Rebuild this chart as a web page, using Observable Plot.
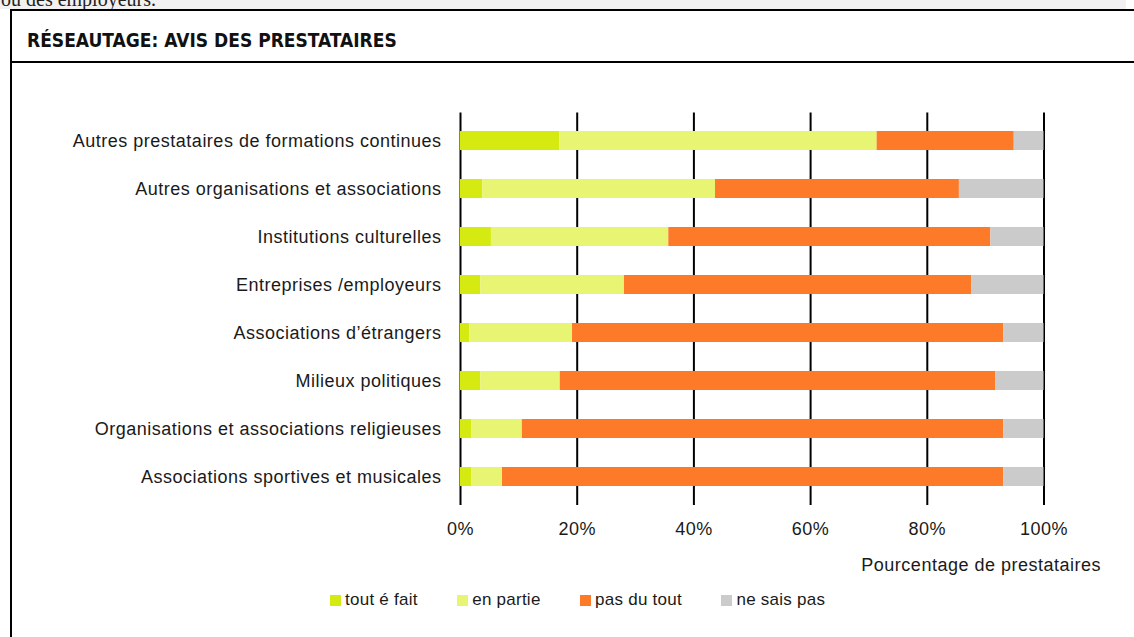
<!DOCTYPE html>
<html><head><meta charset="utf-8">
<script src="https://cdn.jsdelivr.net/npm/d3@7"></script>
<script src="https://cdn.jsdelivr.net/npm/@observablehq/plot@0.6"></script>
<style>
html,body{margin:0;padding:0;width:1134px;height:637px;overflow:hidden;background:#fff;}
#topband{position:absolute;left:0;top:0;width:1126px;height:9px;background:#f1f1f1;overflow:hidden;}
#topband span{position:absolute;left:1px;top:-11px;font:20px/20px "Liberation Serif",serif;color:#222;white-space:nowrap;}
#box{position:absolute;left:10px;top:9px;width:1300px;height:800px;border:2px solid #000;box-sizing:border-box;}
#header{position:absolute;left:0;top:0;width:100%;height:52px;border-bottom:2px solid #000;box-sizing:border-box;}
#title{position:absolute;left:27px;top:30.5px;font:bold 19px/19px "Liberation Sans Narrow","DejaVu Sans Condensed",sans-serif;color:#111;white-space:nowrap;}
#chart{position:absolute;left:0;top:63px;}
#legend{position:absolute;left:330px;top:591px;display:flex;gap:39.5px;font:17px/18px "Liberation Sans",sans-serif;letter-spacing:0.25px;color:#1a1a1a;}
#legend .item{display:flex;align-items:center;gap:4px;}
#legend .sw{width:11px;height:11px;display:inline-block;}
</style>
</head><body>
<div id="topband"><span>ou des employeurs.</span></div>
<div id="box"><div id="header"></div></div>
<div id="title">RÉSEAUTAGE: AVIS DES PRESTATAIRES</div>
<div id="chart"></div>
<div id="legend"></div>
<script>
const categories = [
  "Autres prestataires de formations continues",
  "Autres organisations et associations",
  "Institutions culturelles",
  "Entreprises /employeurs",
  "Associations d’étrangers",
  "Milieux politiques",
  "Organisations et associations religieuses",
  "Associations sportives et musicales"
];
const responses = ["tout é fait", "en partie", "pas du tout", "ne sais pas"];
const colors = ["#d4ea10", "#e8f572", "#fc7a28", "#cbcbcb"];
const toutAFait = [17.0, 3.8, 5.3, 3.5, 1.6, 3.5, 1.9, 1.9];
const enPartie  = [54.4, 39.9, 30.4, 24.6, 17.6, 13.6, 8.7, 5.3];
const pasDuTout = [23.5, 41.8, 55.2, 59.5, 73.9, 74.6, 82.5, 85.9];
const neSaisPas = [5.1, 14.5, 9.1, 12.4, 6.9, 8.3, 6.9, 6.9];
const xTicks = [0, 20, 40, 60, 80, 100];
const xLabel = "Pourcentage de prestataires";

const series = [toutAFait, enPartie, pasDuTout, neSaisPas];
const rows = [];
categories.forEach((c, i) => {
  responses.forEach((r, j) => rows.push({category: c, response: r, value: series[j][i]}));
});

const chart = Plot.plot({
  width: 1134,
  height: 520,
  marginLeft: 460,
  marginRight: 90.5,
  marginTop: 51.6,
  marginBottom: 81,
  style: {background: "transparent", color: "#1a1a1a", fontFamily: "'Liberation Sans', sans-serif", fontSize: "18px", letterSpacing: "0.5px"},
  x: {domain: [0, 100]},
  y: {domain: categories, paddingInner: 0.6, paddingOuter: 0.3},
  color: {domain: responses, range: colors},
  marks: [
    Plot.ruleX(xTicks, {stroke: "#000", strokeWidth: 2, insetTop: -2, insetBottom: -3}),
    Plot.barX(rows, Plot.stackX({x: "value", y: "category", fill: "response", z: "response", order: responses})),
    Plot.axisY({tickSize: 0, tickPadding: 19, label: null, fontSize: 18}),
    Plot.axisX({ticks: xTicks, tickFormat: d => d + "%", tickSize: 0, tickPadding: 20, label: null, fontSize: 18}),
    Plot.text([xLabel], {frameAnchor: "bottom-right", text: d => d, textAnchor: "end", lineAnchor: "middle", dx: 57, dy: 63, fontSize: 18})
  ]
});
document.getElementById("chart").appendChild(chart);

const legend = document.getElementById("legend");
responses.forEach((r, i) => {
  const item = document.createElement("div");
  item.className = "item";
  const sw = document.createElement("span");
  sw.className = "sw";
  sw.style.background = colors[i];
  const t = document.createElement("span");
  t.textContent = r;
  item.appendChild(sw);
  item.appendChild(t);
  legend.appendChild(item);
});
</script>
</body></html>
